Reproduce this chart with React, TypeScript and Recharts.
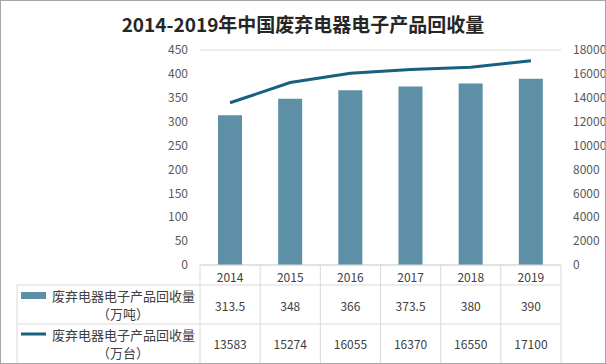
import React from 'react';
import { ComposedChart, Bar, Line, XAxis, YAxis, CartesianGrid } from 'recharts';

const years = ['2014', '2015', '2016', '2017', '2018', '2019'];
const tonnes = [313.5, 348, 366, 373.5, 380, 390];
const units = [13583, 15274, 16055, 16370, 16550, 17100];
const leftTicks = [0, 50, 100, 150, 200, 250, 300, 350, 400, 450];
const rightTicks = [0, 2000, 4000, 6000, 8000, 10000, 12000, 14000, 16000, 18000];
const title = '2014-2019年中国废弃电器电子产品回收量';
const seriesName1 = '废弃电器电子产品回收量';
const unit1 = '（万吨）';
const unit2 = '（万台）';

const data = years.map((y, i) => ({ year: y, tonnes: tonnes[i], units: units[i] }));

const W = 606;
const H = 364;
const PL = 200;
const PR = 561;
const PT = 50;
const PB = 265;
const BAR = '#5d8fa6';
const LINE = '#17607f';
const GRID = '#d9d9d9';
const TICK = '#595959';
const FONT = '"Noto Sans CJK SC", "Open Sans", sans-serif';

function Table() {
  const colW = (PR - PL) / years.length;
  const r1 = 285;
  const r2 = 324;
  const lines: React.ReactNode[] = [];
  for (let i = 0; i <= years.length; i++) {
    const x = PL + i * colW;
    lines.push(<line key={'v' + i} x1={x} x2={x} y1={PB} y2={H} stroke={GRID} strokeWidth={1} />);
  }
  return (
    <svg width={W} height={H} style={{ position: 'absolute', left: 0, top: 0, pointerEvents: 'none' }}>
      {lines}
      <line x1={PL} x2={PR} y1={PB} y2={PB} stroke={GRID} />
      <line x1={17} x2={PR} y1={r1} y2={r1} stroke={GRID} />
      <line x1={17} x2={PR} y1={r2} y2={r2} stroke={GRID} />
      <line x1={17} x2={17} y1={r1} y2={H} stroke={GRID} />
      {years.map((y, i) => (
        <text key={'y' + y} x={PL + (i + 0.5) * colW} y={276} textAnchor="middle" dominantBaseline="central" fontSize={12} fill="#404040" fontFamily={FONT}>{y}</text>
      ))}
      {tonnes.map((v, i) => (
        <text key={'t' + i} x={PL + (i + 0.5) * colW} y={305} textAnchor="middle" dominantBaseline="central" fontSize={12} fill="#404040" fontFamily={FONT}>{v}</text>
      ))}
      {units.map((v, i) => (
        <text key={'u' + i} x={PL + (i + 0.5) * colW} y={343} textAnchor="middle" dominantBaseline="central" fontSize={12} fill="#404040" fontFamily={FONT}>{v}</text>
      ))}
      <rect x={21} y={292} width={25} height={7} fill={BAR} />
      <text x={52} y={295} dominantBaseline="central" fontSize={13} fill="#404040" fontFamily={FONT}>{seriesName1}</text>
      <text x={123} y={313} textAnchor="middle" dominantBaseline="central" fontSize={13} fill="#404040" fontFamily={FONT}>{unit1}</text>
      <line x1={21} x2={46} y1={334} y2={334} stroke={LINE} strokeWidth={3} />
      <text x={52} y={334} dominantBaseline="central" fontSize={13} fill="#404040" fontFamily={FONT}>{seriesName1}</text>
      <text x={123} y={352} textAnchor="middle" dominantBaseline="central" fontSize={13} fill="#404040" fontFamily={FONT}>{unit2}</text>
    </svg>
  );
}

export default function App() {
  return (
    <div style={{ position: 'fixed', left: 0, top: 0, width: W, height: H, background: '#fff', boxSizing: 'border-box' }}>
      <div style={{ position: 'absolute', left: 0, width: W, textAlign: 'center', top: 10, fontFamily: FONT, fontWeight: 'bold', fontSize: 19, lineHeight: '28px', color: '#262626' }}>{title}</div>
      <div style={{ position: 'absolute', left: 0, top: 0 }}>
        <ComposedChart width={W} height={H} data={data} margin={{ top: PT, right: 0, left: PL - 40, bottom: H - PB }}>
          <CartesianGrid vertical={false} stroke={GRID} />
          <XAxis dataKey="year" hide />
          <YAxis yAxisId="l" orientation="left" width={40} domain={[0, 450]} ticks={leftTicks} axisLine={false} tickLine={false} tickSize={8} tickMargin={4} tick={{ fontSize: 12, fill: TICK, fontFamily: FONT }} interval={0} />
          <YAxis yAxisId="r" orientation="right" width={45} domain={[0, 18000]} ticks={rightTicks} axisLine={false} tickLine={false} tickSize={8} tickMargin={4} tick={{ fontSize: 12, fill: TICK, fontFamily: FONT }} interval={0} />
          <Bar yAxisId="l" dataKey="tonnes" fill={BAR} barSize={24} isAnimationActive={false} />
          <Line yAxisId="r" dataKey="units" stroke={LINE} strokeWidth={3} dot={false} isAnimationActive={false} />
        </ComposedChart>
      </div>
      <Table />
      <div style={{ position: 'absolute', left: 0, top: 0, width: W, height: H, border: '1px solid #a6a6a6', boxSizing: 'border-box', pointerEvents: 'none' }} />
    </div>
  );
}
